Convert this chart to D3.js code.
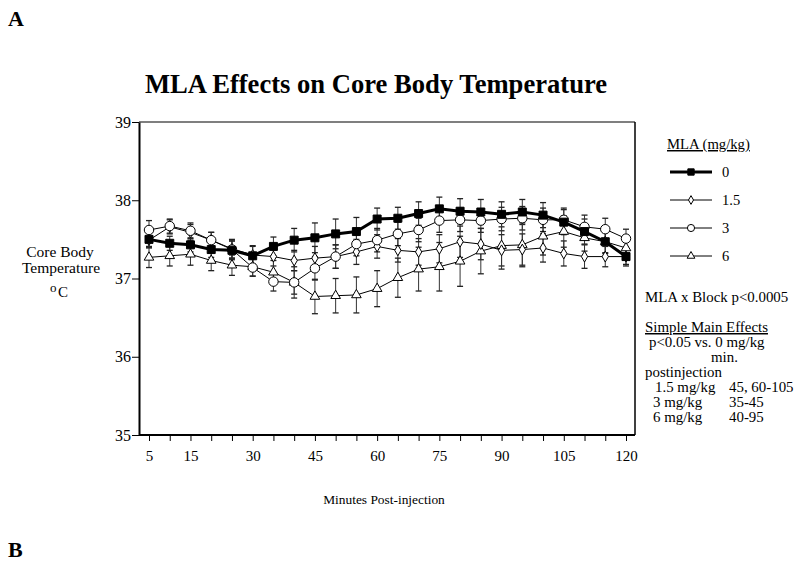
<!DOCTYPE html>
<html><head><meta charset="utf-8">
<script src="https://cdn.jsdelivr.net/npm/d3@7"></script>
<style>
body{margin:0;background:#fff;}
svg{display:block;font-family:"Liberation Serif","Times New Roman",serif;}
</style></head>
<body>
<svg id="c" width="800" height="564"></svg>
<script>
const minutes = [5,10,15,20,25,30,35,40,45,50,55,60,65,70,75,80,85,90,95,100,105,110,115,120];
const doseLabels = ["0","1.5","3","6"];
const mean0  = [37.50,37.45,37.43,37.37,37.36,37.29,37.41,37.49,37.52,37.57,37.60,37.76,37.77,37.83,37.89,37.86,37.85,37.82,37.85,37.81,37.72,37.60,37.47,37.28];
const mean15 = [37.49,37.66,37.59,37.49,37.38,37.30,37.28,37.23,37.26,37.28,37.34,37.41,37.36,37.34,37.38,37.47,37.44,37.36,37.37,37.39,37.32,37.28,37.28,37.28];
const mean3  = [37.62,37.67,37.61,37.49,37.37,37.14,36.96,36.95,37.13,37.28,37.44,37.49,37.57,37.62,37.74,37.75,37.74,37.76,37.77,37.75,37.75,37.66,37.63,37.51];
const mean6  = [37.27,37.29,37.31,37.23,37.17,37.15,37.08,36.95,36.77,36.78,36.79,36.87,37.01,37.12,37.15,37.22,37.35,37.42,37.43,37.54,37.60,37.52,37.47,37.39];
const sem0   = [0.09,0.09,0.09,0.10,0.12,0.12,0.12,0.15,0.19,0.19,0.18,0.14,0.14,0.15,0.15,0.16,0.16,0.16,0.16,0.16,0.16,0.16,0.15,0.12];
const sem15  = [0.10,0.09,0.10,0.10,0.12,0.12,0.12,0.13,0.15,0.15,0.16,0.15,0.15,0.17,0.18,0.20,0.20,0.20,0.20,0.18,0.16,0.15,0.13,0.10];
const sem3   = [0.12,0.09,0.10,0.10,0.11,0.11,0.12,0.15,0.15,0.15,0.15,0.15,0.15,0.15,0.15,0.15,0.15,0.15,0.15,0.15,0.15,0.15,0.14,0.12];
const sem6   = [0.13,0.13,0.14,0.13,0.13,0.12,0.15,0.20,0.22,0.22,0.23,0.23,0.25,0.28,0.31,0.32,0.29,0.30,0.28,0.24,0.20,0.17,0.14,0.13];
const xTickLabels = [5,15,30,45,60,75,90,105,120];
const yTickLabels = [35,36,37,38,39];

const series = [
  {label:doseLabels[0], mean:mean0,  sem:sem0,  shape:"square",  fill:"#000", width:3},
  {label:doseLabels[1], mean:mean15, sem:sem15, shape:"diamond", fill:"#fff", width:1},
  {label:doseLabels[2], mean:mean3,  sem:sem3,  shape:"circle",  fill:"#fff", width:1},
  {label:doseLabels[3], mean:mean6,  sem:sem6,  shape:"triangle",fill:"#fff", width:1}
];

const svg = d3.select("#c");
const x = d3.scaleLinear().domain([5,120]).range([149,626]);
const y = d3.scaleLinear().domain([35,39]).range([435,122]);
const L=139, R=635, T=122, B=435;

// panel letters
svg.append("text").attr("x",8).attr("y",26).attr("font-size",22).attr("font-weight","bold").text("A");
svg.append("text").attr("x",8).attr("y",557).attr("font-size",22).attr("font-weight","bold").text("B");

// title
svg.append("text").attr("x",376).attr("y",93).attr("text-anchor","middle")
  .attr("font-size",26.6).attr("font-weight","bold").text("MLA Effects on Core Body Temperature");

// frame
svg.append("line").attr("x1",L).attr("x2",R).attr("y1",T).attr("y2",T).attr("stroke","#555").attr("stroke-width",1.5);
svg.append("line").attr("x1",R).attr("x2",R).attr("y1",T).attr("y2",B).attr("stroke","#000").attr("stroke-width",1.5);

// axes
const yAxis = d3.axisLeft(y).tickValues(yTickLabels).tickSize(7).tickSizeOuter(0).tickFormat(d3.format("d"));
const gy = svg.append("g").attr("transform",`translate(${L},0)`).call(yAxis);
gy.select(".domain").attr("stroke","#000").attr("stroke-width",2);
gy.selectAll(".tick line").attr("stroke","#000").attr("stroke-width",1);
gy.selectAll(".tick text").attr("font-family","Liberation Serif").attr("font-size",16).attr("fill","#000").attr("x",-8);

const xAxis = d3.axisBottom(x).tickValues(minutes).tickSize(6).tickSizeOuter(0)
  .tickFormat(d => xTickLabels.includes(d) ? d : "");
const gx = svg.append("g").attr("transform",`translate(0,${B})`).call(xAxis);
gx.select(".domain").attr("d",`M${L},0H${R}`).attr("stroke","#000").attr("stroke-width",2);
gx.selectAll(".tick line").attr("stroke","#000").attr("stroke-width",1);
gx.selectAll(".tick text").attr("font-family","Liberation Serif").attr("font-size",15).attr("fill","#000").attr("dy","1.1em");

// axis titles
svg.append("text").attr("x",384).attr("y",504).attr("text-anchor","middle").attr("font-size",13.4).text("Minutes Post-injection");
svg.append("text").attr("x",60).attr("y",257).attr("text-anchor","middle").attr("font-size",15.5).text("Core Body");
svg.append("text").attr("x",61).attr("y",273).attr("text-anchor","middle").attr("font-size",15.5).text("Temperature");
svg.append("text").attr("x",50).attr("y",292).attr("font-size",13).text("o");
svg.append("text").attr("x",58).attr("y",297).attr("font-size",15).text("C");

function sym(shape){
  const s = {square:d3.symbolSquare, diamond:d3.symbolDiamond, circle:d3.symbolCircle, triangle:d3.symbolTriangle}[shape];
  const size = {square:64, diamond:34, circle:70, triangle:40}[shape];
  return d3.symbol().type(s).size(size)();
}

const plot = svg.append("g");
// error bars
series.forEach(s=>{
  const g = plot.append("g");
  s.mean.forEach((m,i)=>{
    const xx = x(minutes[i]), y1 = y(m + s.sem[i]), y2 = y(m - s.sem[i]);
    g.append("line").attr("x1",xx).attr("x2",xx).attr("y1",y1).attr("y2",y2).attr("stroke","#333").attr("stroke-width",1);
    g.append("line").attr("x1",xx-3).attr("x2",xx+3).attr("y1",y1).attr("y2",y1).attr("stroke","#222").attr("stroke-width",1.3);
    g.append("line").attr("x1",xx-3).attr("x2",xx+3).attr("y1",y2).attr("y2",y2).attr("stroke","#222").attr("stroke-width",1.3);
  });
});
// lines and markers
const order = [3,1,2,0];
order.forEach(k=>{
  const s = series[k];
  const line = d3.line().x((d,i)=>x(minutes[i])).y(d=>y(d));
  plot.append("path").attr("d",line(s.mean)).attr("fill","none").attr("stroke","#000").attr("stroke-width",s.width);
  plot.selectAll(null).data(s.mean).enter().append("path")
    .attr("d",sym(s.shape))
    .attr("transform",(d,i)=>`translate(${x(minutes[i])},${y(d)})`)
    .attr("fill",s.fill).attr("stroke","#000").attr("stroke-width",1);
});

// legend
svg.append("text").attr("x",667).attr("y",149).attr("font-size",14.7).attr("text-decoration","underline").text("MLA (mg/kg)");
const legY = [172,200,228,256];
series.forEach((s,i)=>{
  svg.append("line").attr("x1",670).attr("x2",712).attr("y1",legY[i]).attr("y2",legY[i]).attr("stroke","#000").attr("stroke-width",s.width);
  const sz = {square:40, diamond:22, circle:40, triangle:26}[s.shape];
  const t = {square:d3.symbolSquare, diamond:d3.symbolDiamond, circle:d3.symbolCircle, triangle:d3.symbolTriangle}[s.shape];
  svg.append("path").attr("d",d3.symbol().type(t).size(sz)()).attr("transform",`translate(691,${legY[i]})`)
    .attr("fill",s.fill).attr("stroke","#000").attr("stroke-width",1);
  svg.append("text").attr("x",722).attr("y",legY[i]+5).attr("font-size",14.5).text(s.label);
});

// annotations
const ann = [
  {x:645,y:302,t:"MLA x Block p<0.0005"},
  {x:645,y:332,t:"Simple Main Effects",u:true},
  {x:649,y:347,t:"p<0.05 vs. 0 mg/kg"},
  {x:711,y:362,t:"min."},
  {x:645,y:377,t:"postinjection"},
  {x:655,y:392,t:"1.5 mg/kg"},{x:729,y:392,t:"45, 60-105"},
  {x:653,y:407,t:"3 mg/kg"},{x:729,y:407,t:"35-45"},
  {x:653,y:422,t:"6 mg/kg"},{x:729,y:422,t:"40-95"}
];
ann.forEach(a=>{
  svg.append("text").attr("x",a.x).attr("y",a.y).attr("font-size",14.9)
    .attr("text-decoration",a.u?"underline":null).text(a.t);
});
</script>
</body></html>
